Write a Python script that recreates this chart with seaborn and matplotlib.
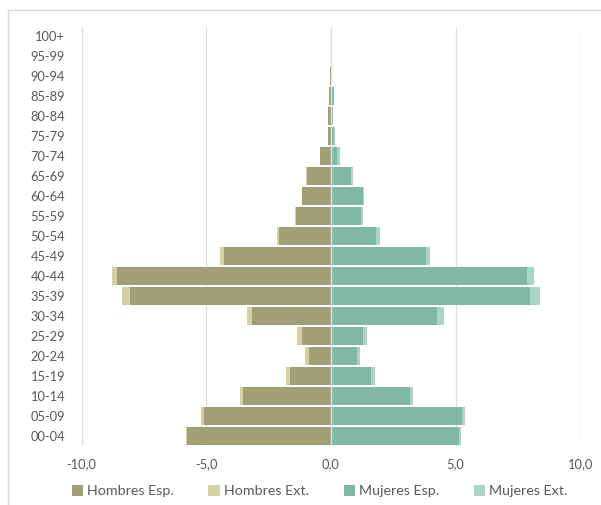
import matplotlib
matplotlib.use("Agg")
import matplotlib.pyplot as plt
import seaborn as sns
import pandas as pd
from matplotlib.patches import Patch, Rectangle

ages = ["00-04", "05-09", "10-14", "15-19", "20-24", "25-29", "30-34", "35-39",
        "40-44", "45-49", "50-54", "55-59", "60-64", "65-69", "70-74", "75-79",
        "80-84", "85-89", "90-94", "95-99", "100+"]
hombres_esp = [5.78, 5.08, 3.52, 1.66, 0.87, 1.18, 3.18, 8.07, 8.57, 4.31, 2.10,
               1.40, 1.15, 0.97, 0.43, 0.14, 0.14, 0.07, 0.03, 0.0, 0.0]
hombres_ext = [0.04, 0.14, 0.12, 0.14, 0.16, 0.20, 0.19, 0.31, 0.23, 0.16, 0.06,
               0.06, 0.02, 0.02, 0.01, 0.0, 0.0, 0.0, 0.0, 0.0, 0.0]
mujeres_esp = [5.15, 5.27, 3.17, 1.62, 1.04, 1.27, 4.24, 7.99, 7.87, 3.82, 1.80,
               1.22, 1.30, 0.82, 0.26, 0.13, 0.08, 0.11, 0.02, 0.0, 0.0]
mujeres_ext = [0.08, 0.11, 0.10, 0.13, 0.14, 0.18, 0.30, 0.38, 0.27, 0.17, 0.17,
               0.07, 0.04, 0.05, 0.10, 0.03, 0.01, 0.02, 0.01, 0.0, 0.0]
xticks = [-10, -5, 0, 5, 10]
xtick_labels = ["-10,0", "-5,0", "0,0", "5,0", "10,0"]
series_names = ["Hombres Esp.", "Hombres Ext.", "Mujeres Esp.", "Mujeres Ext."]

c_h_esp = "#a29e76"
c_h_ext = "#d3d0a3"
c_m_esp = "#7fb8a7"
c_m_ext = "#a9d5c7"

df = pd.DataFrame({
    "age": ages,
    "h_esp": [-v for v in hombres_esp],
    "h_tot": [-(a + b) for a, b in zip(hombres_esp, hombres_ext)],
    "m_esp": mujeres_esp,
    "m_tot": [a + b for a, b in zip(mujeres_esp, mujeres_ext)],
})
order = ages[::-1]

sns.set_theme(style="white")
plt.rcParams["font.family"] = ["Lato", "DejaVu Sans"]

fig = plt.figure(figsize=(6.01, 5.05), dpi=100)
ax = fig.add_axes([81.7 / 601, 1 - 445.5 / 505, (580.3 - 81.7) / 601, (445.5 - 26.5) / 505])

for x in xticks:
    ax.axvline(x, color="#dedede", lw=0.9, zorder=0)

w = 0.9
sns.barplot(data=df, x="h_tot", y="age", order=order, color=c_h_ext, width=w,
            saturation=1, orient="h", ax=ax, zorder=2)
sns.barplot(data=df, x="h_esp", y="age", order=order, color=c_h_esp, width=w,
            saturation=1, orient="h", ax=ax, zorder=3)
sns.barplot(data=df, x="m_tot", y="age", order=order, color=c_m_ext, width=w,
            saturation=1, orient="h", ax=ax, zorder=2)
sns.barplot(data=df, x="m_esp", y="age", order=order, color=c_m_esp, width=w,
            saturation=1, orient="h", ax=ax, zorder=3)
for p in ax.patches:
    p.set_linewidth(0)

ax.axvline(0, color="#e2e2e2", lw=1.0, zorder=4)

ax.set_xlim(-10, 10)
ax.set_ylim(len(ages) - 0.5, -0.5)
ax.set_xticks(xticks)
ax.set_xticklabels(xtick_labels)
ax.set_xlabel("")
ax.set_ylabel("")
for s in ax.spines.values():
    s.set_visible(False)
ax.tick_params(axis="both", length=0, labelsize=9.3, colors="#595959")
ax.tick_params(axis="x", pad=9)
ax.tick_params(axis="y", pad=12)

handles = [Patch(facecolor=c, edgecolor="none") for c in [c_h_esp, c_h_ext, c_m_esp, c_m_ext]]
leg = fig.legend(handles, series_names, loc="center", bbox_to_anchor=(0.532, 1 - 491 / 505),
                 ncol=4, frameon=False, fontsize=10.3, handlelength=0.8, handleheight=0.8,
                 handletextpad=0.3, columnspacing=2.4, labelcolor="#595959")

border = Rectangle((8 / 601, -0.1), 1.1, 1 - 10 / 505 + 0.1, transform=fig.transFigure,
                   fill=False, edgecolor="#d9d9d9", lw=1, clip_on=False)
fig.add_artist(border)

fig.savefig("out.png", dpi=100, facecolor="white")
